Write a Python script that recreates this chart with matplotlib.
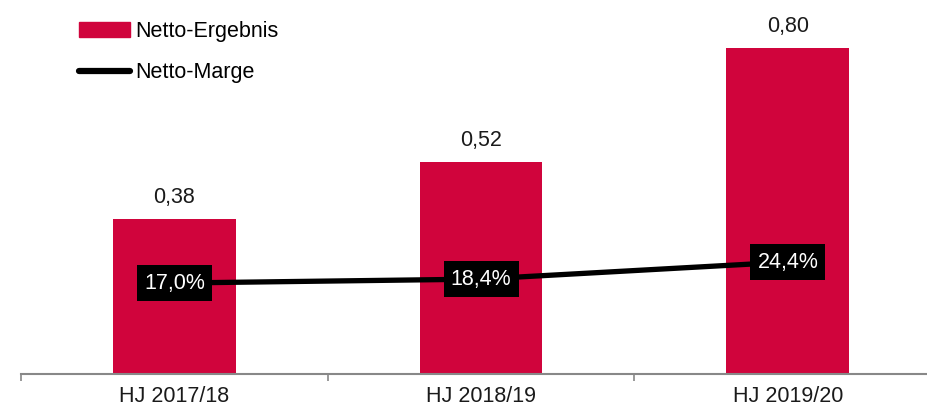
import matplotlib.pyplot as plt
from matplotlib.patches import Patch
from matplotlib.lines import Line2D

plt.rcParams['font.family'] = ['Liberation Sans', 'DejaVu Sans']

categories = ['HJ 2017/18', 'HJ 2018/19', 'HJ 2019/20']
netto_ergebnis = [0.38, 0.52, 0.80]
netto_marge = [17.0, 18.4, 24.4]

red = '#D0043C'
fs = 15.5
x = list(range(len(categories)))

fig = plt.figure(figsize=(9.28, 4.08), dpi=100)
ax = fig.add_axes([21 / 928, 34 / 408, 907 / 928, 374 / 408])

ax.bar(x, netto_ergebnis, width=0.4, color=red, zorder=2)
for xi, v in zip(x, netto_ergebnis):
    ax.annotate(f'{v:.2f}'.replace('.', ','), (xi, v), xytext=(0, 8),
                textcoords='offset points', ha='center', va='bottom',
                fontsize=fs, color='#1a1a1a')

ax.set_xlim(-0.5, 2.457)
ax.set_ylim(0, 0.918)
ax.set_yticks([])
ax.set_xticks(x)
ax.set_xticklabels(categories, fontsize=fs, color='#1a1a1a')
ax.tick_params(axis='x', length=0, pad=9)
ax.set_xticks([-0.5, 0.5, 1.5], minor=True)
ax.tick_params(axis='x', which='minor', length=5, width=1.2, color='#888888', direction='out')
for s in ['top', 'right', 'left']:
    ax.spines[s].set_visible(False)
ax.spines['bottom'].set_color('#888888')
ax.spines['bottom'].set_linewidth(1.5)

ax2 = ax.twinx()
ax2.set_ylim(-15, 116.6)
ax2.axis('off')
ax2.plot(x, netto_marge, color='black', lw=3.8, zorder=3)
for xi, v in zip(x, netto_marge):
    ax2.text(xi, v, f'{v:.1f}%'.replace('.', ','), ha='center', va='center',
             fontsize=fs, color='white', zorder=4,
             bbox=dict(boxstyle='square,pad=0.33', fc='black', ec='none'))

handles = [Patch(color=red), Line2D([0], [0], color='black', lw=4.5, solid_capstyle='round')]
fig.legend(handles, ['Netto-Ergebnis', 'Netto-Marge'], loc='upper left',
           bbox_to_anchor=(70 / 928, 1 - 12 / 408), frameon=False, fontsize=fs,
           handlelength=2.4, handletextpad=0.25, labelspacing=0.95, borderaxespad=0)

fig.savefig('out.png', dpi=100)
